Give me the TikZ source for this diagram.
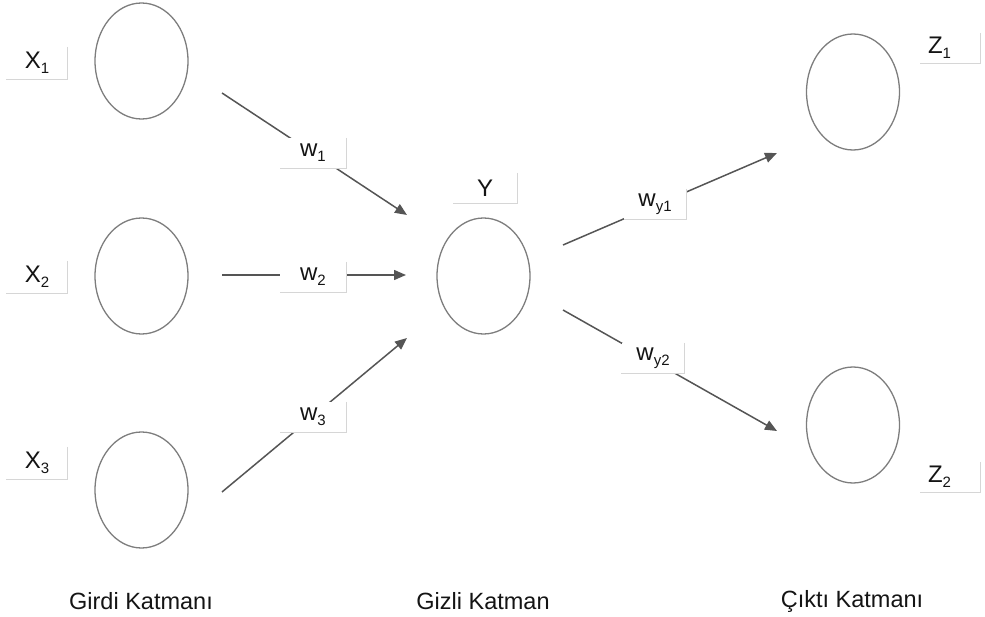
\documentclass[tikz,border=0pt]{standalone}
\usepackage{fontspec}
\setmainfont{Liberation Sans}
\usetikzlibrary{arrows.meta,shapes.geometric}
% subscript set in the main sans font
\newcommand\lsub[1]{\raisebox{-0.22em}{\fontsize{15}{15}\selectfont #1}}
\definecolor{ringgray}{RGB}{125,125,125}
\definecolor{arrowgray}{RGB}{85,85,85}
\definecolor{edgegray}{RGB}{214,214,214}
\definecolor{inkgray}{RGB}{20,20,20}
\begin{document}
\begin{tikzpicture}[x=1pt,y=-1pt,
  neuron/.style={ellipse, draw=ringgray, line width=1.3pt, minimum width=93pt, minimum height=116pt, inner sep=0pt},
  tag/.style={fill=white, text=inkgray, inner sep=0pt, minimum width=61pt, minimum height=32pt, font=\fontsize{24}{28}\selectfont},
  wtag/.style={tag, minimum width=66pt, minimum height=30pt},
  caption/.style={text=inkgray, font=\fontsize{23.5}{27}\selectfont},
  link/.style={draw=arrowgray, line width=1.5pt, -{Triangle[length=12pt,width=10pt]}},
  tagedge/.style={draw=edgegray, line width=1.2pt}
]
\useasboundingbox (0,0) rectangle (985,617);

% neurons
\node[neuron] (x1) at (141.5,61) {};
\node[neuron] (x2) at (141.5,276) {};
\node[neuron] (x3) at (141.5,490) {};
\node[neuron] (y)  at (483.5,276) {};
\node[neuron] (z1) at (853,92) {};
\node[neuron] (z2) at (853,425) {};

% connector end points
\coordinate (s1) at (222,93);   \coordinate (e1) at (407,215);
\coordinate (s2) at (222,275);  \coordinate (e2) at (406,275);
\coordinate (s3) at (222,492);  \coordinate (e3) at (407,338);
\coordinate (s4) at (563,245);  \coordinate (e4) at (777,153);
\coordinate (s5) at (563,310);  \coordinate (e5) at (777,431);

\draw[link] (s1) -- (e1);
\draw[link] (s2) -- (e2);
\draw[link] (s3) -- (e3);
\draw[link] (s4) -- (e4);
\draw[link] (s5) -- (e5);

% weight tags (drawn over the connectors)
\node[wtag] (lw1) at (313,153) {w\lsub{1}};
\node[wtag] (lw2) at (313,277) {w\lsub{2}};
\node[wtag] (lw3) at (313,417) {w\lsub{3}};
\node[wtag, minimum width=62pt] (lwy1) at (655,204) {w\lsub{y1}};
\node[wtag, minimum width=63pt] (lwy2) at (653,358) {w\lsub{y2}};

% neuron tags
\node[tag] (lx1) at (37,63)  {X\lsub{1}};
\node[tag] (lx2) at (37,277) {X\lsub{2}};
\node[tag] (lx3) at (37,463) {X\lsub{3}};
\node[tag, minimum width=64pt, minimum height=30pt] (ly) at (485,188) {Y};
\node[tag, minimum width=60pt, minimum height=30pt, text width=60pt, align=left] (lz1) at (950,48)  {\hspace*{8pt}Z\lsub{1}};
\node[tag, minimum width=60pt, minimum height=30pt, text width=60pt, align=left] (lz2) at (950,477) {\hspace*{8pt}Z\lsub{2}};

% light edges on the right and bottom of every tag
\foreach \n in {lw1,lw2,lw3,lwy1,lwy2,lx1,lx2,lx3,ly,lz1,lz2}
  \draw[tagedge] (\n.north east) -- (\n.south east) -- (\n.south west);

% layer captions
\node[caption] (cin)  at (141,601) {Girdi Katmanı};
\node[caption] (chid) at (483,601) {Gizli Katman};
\node[caption] (cout) at (852,601) {Çıktı Katmanı};
\end{tikzpicture}
\end{document}
